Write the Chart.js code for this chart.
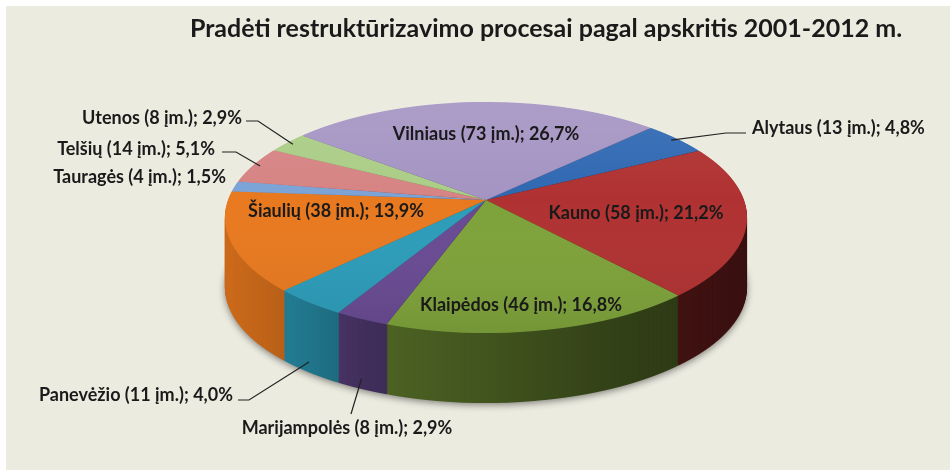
<!DOCTYPE html>
<html>
<head>
<meta charset="utf-8">
<script src="https://cdn.jsdelivr.net/npm/chart.js@4.4.1/dist/chart.umd.min.js"></script>
<style>
  html, body { margin: 0; padding: 0; background: #fff; }
  #wrap { width: 950px; height: 470px; }
</style>
</head>
<body>
<div id="wrap"><canvas id="pieChart" width="950" height="470"></canvas></div>
<script>
// Data (clockwise, starting after Vilniaus)
const categories = ['Alytaus', 'Kauno', 'Klaipėdos', 'Marijampolės', 'Panevėžio', 'Šiaulių', 'Tauragės', 'Telšių', 'Utenos', 'Vilniaus'];
const counts = [13, 58, 46, 8, 11, 38, 4, 14, 8, 73];
const percents = ['4,8%', '21,2%', '16,8%', '2,9%', '4,0%', '13,9%', '1,5%', '5,1%', '2,9%', '26,7%'];
const colors = ['#2f68b2', '#b03131', '#7ea23a', '#684a92', '#2c9cb9', '#e8791f', '#7ca3d6', '#d68383', '#aacd86', '#a494c3'];
const chartTitle = 'Pradėti restruktūrizavimo procesai pagal apskritis 2001-2012 m.';

// perspective view of the disc: centre of the pie on screen, widths, tilt
const CX = 486, APEX_Y = 200, A = 258, B = 112.85, P = 0.1515, DEPTH = 70;
const FONT = 'Lato, "Open Sans", sans-serif';

// where each label text sits; outside ones get a leader line
const labelLayout = {
  'Vilniaus':     { x: 486, y: 134, align: 'center' },
  'Kauno':        { x: 636, y: 213, align: 'center' },
  'Klaipėdos':    { x: 521, y: 305, align: 'center' },
  'Šiaulių':      { x: 336, y: 211, align: 'center' },
  'Alytaus':      { x: 752, y: 128, align: 'left',   line: [[726, 133], [746, 133]] },
  'Utenos':       { x: 242, y: 118, align: 'right',  line: [[258, 121], [246, 121]] },
  'Telšių':       { x: 215, y: 149, align: 'right',  line: [[236, 152], [222, 152]] },
  'Tauragės':     { x: 226, y: 177, align: 'right' },
  'Panevėžio':    { x: 233, y: 395, align: 'right',  line: [[249, 400], [238, 400]], side: true },
  'Marijampolės': { x: 347, y: 428, align: 'center', line: [[351, 414]], side: true }
};

// disc point (u, v in -1..1, v towards the viewer) -> screen
function project(u, v) {
  const w = 1 - P * v;
  return [CX + A * u / w, APEX_Y + B * v / w];
}

function rimPoint(arc, f, drop) {
  const a = (arc.startAngle + arc.endAngle) / 2;
  const p = project(f * Math.cos(a), f * Math.sin(a));
  return [p[0], p[1] + drop];
}

// draws the chart's arcs row by row, each row with its own affine piece of the perspective map
function drawProjected(c, arcs, fills) {
  const a0 = arcs[0];
  const r = a0.outerRadius, cx0 = a0.x, cy0 = a0.y;
  const yTop = Math.floor(APEX_Y - B / (1 + P)) - 2;
  const yBot = Math.ceil(APEX_Y + B / (1 - P)) + 2;
  for (let y = yTop; y < yBot; y++) {
    const t = y + 0.5 - APEX_Y;
    const v = t / (B + P * t);
    const w = 1 - P * v;
    const sx = A / w / r;
    const sy = B / (w * w) / r;
    c.save();
    c.beginPath();
    c.rect(0, y, c.canvas.width, 1);
    c.clip();
    c.setTransform(sx, 0, 0, sy, CX - sx * cx0, y + 0.5 - sy * (cy0 + v * r));
    arcs.forEach((arc, i) => {
      const el = Object.create(arc);
      el.options = Object.assign({}, arc.options, { backgroundColor: fills[i] });
      el.draw(c);
    });
    c.restore();
  }
}

function layer(chart) {
  const cv = document.createElement('canvas');
  cv.width = chart.width;
  cv.height = chart.height;
  return cv;
}

const pie3d = {
  id: 'pie3d',
  beforeDraw(chart) {
    const c = chart.ctx;
    c.save();
    c.fillStyle = '#ecebe0';
    c.fillRect(6, 6, chart.width - 6, chart.height - 6);
    c.restore();
  },
  beforeDatasetsDraw(chart) {
    const c = chart.ctx;
    const arcs = chart.getDatasetMeta(0).data;

    // side wall: the pie in its own colours, darkened towards the right
    const sideCv = layer(chart);
    const s = sideCv.getContext('2d');
    drawProjected(s, arcs, colors);
    s.globalCompositeOperation = 'source-atop';
    const sg = s.createLinearGradient(CX - A, 0, CX + A, 0);
    sg.addColorStop(0, 'rgba(0,0,0,0.12)');
    sg.addColorStop(0.15, 'rgba(0,0,0,0.24)');
    sg.addColorStop(0.27, 'rgba(0,0,0,0.38)');
    sg.addColorStop(0.5, 'rgba(0,0,0,0.48)');
    sg.addColorStop(0.75, 'rgba(0,0,0,0.6)');
    sg.addColorStop(1, 'rgba(0,0,0,0.67)');
    s.fillStyle = sg;
    s.fillRect(0, 0, sideCv.width, sideCv.height);

    c.save();
    for (let d = DEPTH; d >= 1; d--) {
      if (d === DEPTH) {
        c.shadowColor = 'rgba(0,0,0,0.45)';
        c.shadowBlur = 7;
        c.shadowOffsetY = 2;
      } else {
        c.shadowColor = 'rgba(0,0,0,0)';
        c.shadowBlur = 0;
        c.shadowOffsetY = 0;
      }
      c.drawImage(sideCv, 0, d);
    }
    c.restore();

    // top face with a soft light from above
    const topCv = layer(chart);
    const t = topCv.getContext('2d');
    drawProjected(t, arcs, colors);
    t.globalCompositeOperation = 'source-atop';
    const tg = t.createLinearGradient(0, APEX_Y - B, 0, APEX_Y + B * 1.2);
    tg.addColorStop(0, 'rgba(255,255,255,0.10)');
    tg.addColorStop(0.45, 'rgba(255,255,255,0)');
    tg.addColorStop(1, 'rgba(0,0,0,0.08)');
    t.fillStyle = tg;
    t.fillRect(0, 0, topCv.width, topCv.height);
    c.drawImage(topCv, 0, 0);
    return false;
  },
  afterDraw(chart) {
    const c = chart.ctx;
    const arcs = chart.getDatasetMeta(0).data;
    c.save();
    c.fillStyle = '#1a1a1a';
    c.strokeStyle = '#222';
    c.lineWidth = 1.2;
    c.font = 'bold 18px ' + FONT;
    c.textBaseline = 'middle';
    arcs.forEach((arc, i) => {
      const name = categories[i];
      const L = labelLayout[name];
      if (L.line) {
        const p = L.side ? rimPoint(arc, 1, DEPTH * 0.85) : rimPoint(arc, 0.97, 0);
        c.beginPath();
        c.moveTo(p[0], p[1]);
        L.line.forEach(q => c.lineTo(q[0], q[1]));
        c.stroke();
      }
      c.textAlign = L.align;
      c.fillText(name + ' (' + counts[i] + ' įm.); ' + percents[i], L.x, L.y);
    });
    c.font = 'bold 25px ' + FONT;
    c.textAlign = 'center';
    c.textBaseline = 'alphabetic';
    c.fillText(chartTitle, 546, 37);
    c.restore();
  }
};

const pieCtx = document.getElementById('pieChart').getContext('2d');
const pieChart = new Chart(pieCtx, {
  type: 'pie',
  data: {
    labels: categories,
    datasets: [{
      data: counts,
      backgroundColor: colors,
      borderWidth: 0,
      hoverOffset: 0,
      offset: 0,
      clip: false
    }]
  },
  options: {
    responsive: false,
    animation: false,
    events: [],
    rotation: 45,
    layout: { padding: { top: 101, bottom: 135, left: 300, right: 278 } },
    plugins: {
      legend: { display: false },
      tooltip: { enabled: false }
    }
  },
  plugins: [pie3d]
});
</script>
</body>
</html>
